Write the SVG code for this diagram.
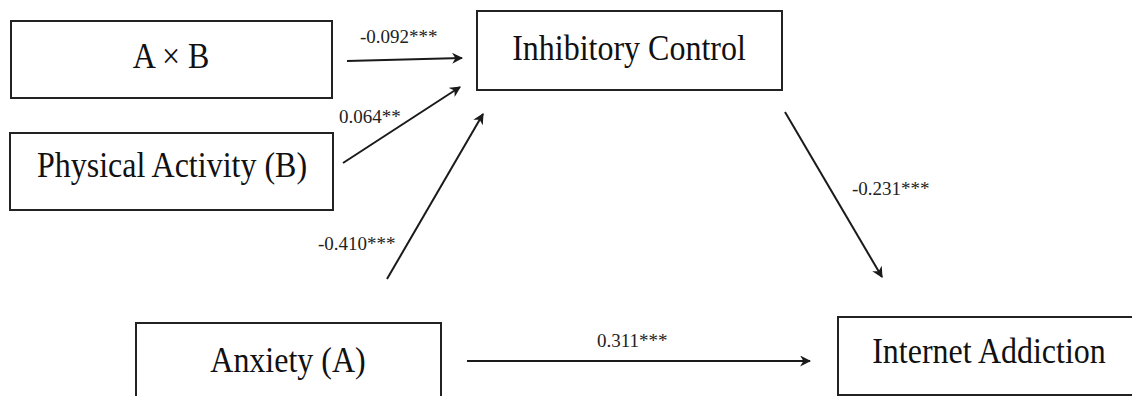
<svg xmlns="http://www.w3.org/2000/svg" width="1132" height="396" viewBox="0 0 1132 396">
  <style>
    .box { fill: #ffffff; stroke: #222222; stroke-width: 2; }
    .lbl { font-family: "Liberation Serif", "Times New Roman", serif; font-size: 32px; fill: #111111; text-anchor: middle; }
    .coef { font-family: "Liberation Serif", "Times New Roman", serif; font-size: 19px; fill: #222222; }
    .edge { stroke: #1a1a1a; stroke-width: 2; fill: none; marker-end: url(#arrow); }
  </style>
  <defs>
    <marker id="arrow" viewBox="0 0 10 10" refX="9" refY="5" markerWidth="5.5" markerHeight="5.5" orient="auto" markerUnits="strokeWidth">
      <path d="M0,0 L10,5 L0,10 L3,5 Z" fill="#1a1a1a"/>
    </marker>
  </defs>
  <rect x="0" y="0" width="1132" height="396" fill="#ffffff"/>

  <g id="node-axb">
    <rect class="box" x="11" y="21" width="321" height="77"/>
    <text class="lbl" transform="translate(171,68) scale(1,1.1)">A × B</text>
  </g>
  <g id="node-physical-activity">
    <rect class="box" x="10" y="133" width="323" height="77"/>
    <text class="lbl" transform="translate(172,177) scale(1,1.1)">Physical Activity (B)</text>
  </g>
  <g id="node-inhibitory-control">
    <rect class="box" x="477" y="11" width="305" height="79"/>
    <text class="lbl" transform="translate(629,60) scale(1,1.1)">Inhibitory Control</text>
  </g>
  <g id="node-anxiety">
    <rect class="box" x="136" y="323" width="305" height="90"/>
    <text class="lbl" transform="translate(288,372) scale(1,1.1)">Anxiety (A)</text>
  </g>
  <g id="node-internet-addiction">
    <rect class="box" x="838" y="317" width="310" height="78"/>
    <text class="lbl" transform="translate(989,363) scale(1,1.1)" font-size="31.5">Internet Addiction</text>
  </g>

  <g id="connectors">
    <line class="edge" x1="347" y1="61" x2="462" y2="58"/>
    <line class="edge" x1="343" y1="163" x2="460" y2="87"/>
    <line class="edge" x1="387" y1="279" x2="483" y2="114"/>
    <line class="edge" x1="785" y1="112" x2="882" y2="277"/>
    <line class="edge" x1="467" y1="361" x2="810" y2="361"/>
    <text class="coef" x="360" y="43">-0.092***</text>
    <text class="coef" x="339" y="123">0.064**</text>
    <text class="coef" x="318" y="250">-0.410***</text>
    <text class="coef" x="852" y="195">-0.231***</text>
    <text class="coef" x="597" y="347">0.311***</text>
  </g>
</svg>
